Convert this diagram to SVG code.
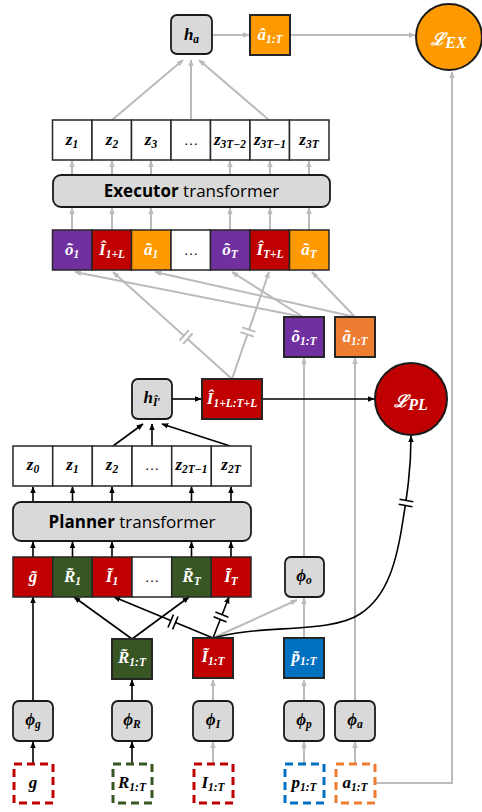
<svg xmlns="http://www.w3.org/2000/svg" width="482" height="812" viewBox="0 0 482 812">
<defs>
<marker id="ak" viewBox="0 0 10 10" refX="9" refY="5" markerWidth="7" markerHeight="7" orient="auto" markerUnits="userSpaceOnUse"><path d="M0,1 L10,5 L0,9 z" fill="#000"/></marker>
<marker id="ag" viewBox="0 0 10 10" refX="9" refY="5" markerWidth="7" markerHeight="7" orient="auto" markerUnits="userSpaceOnUse"><path d="M0,1 L10,5 L0,9 z" fill="#BBBBBB"/></marker>
</defs>
<style>
.g{stroke:#BBBBBB;stroke-width:2;fill:none}
.k{stroke:#000;stroke-width:1.6;fill:none}
.ga{marker-end:url(#ag)}
.ka{marker-end:url(#ak)}
.cell{stroke:#262626;stroke-width:1.5}
.box{stroke:#262626;stroke-width:2}
.gb{fill:#D9D9D9;stroke:#1a1a1a;stroke-width:1.8}
.dash{fill:#fff;stroke-width:3;stroke-dasharray:8 5}
.m{font-family:"Liberation Serif","DejaVu Serif",serif;font-weight:bold;font-style:italic;font-size:17px;text-anchor:middle}
.w{fill:#fff}
.s{font-size:11.5px}
.t{font-family:"Open Sans","Liberation Sans",sans-serif;font-size:17px;text-anchor:middle}
.dots{font-family:"Liberation Sans",sans-serif;font-size:15px;text-anchor:middle}
.sg{fill:#fff;stroke:none}
</style>

<g id="connectors">
  <path class="g ga" d="M212,35 H249"/>
  <path class="g ga" d="M290,35 H415"/>
  <path class="g ga" d="M376,783 H452 V72"/>
  <path class="g ga" d="M112,120 L183,60"/>
  <path class="g ga" d="M191,120 V60"/>
  <path class="g ga" d="M269,120 L199,60"/>
  <path class="g ga" d="M72,175 V161"/><path class="g ga" d="M112,175 V161"/><path class="g ga" d="M151,175 V161"/>
  <path class="g ga" d="M230,175 V161"/><path class="g ga" d="M270,175 V161"/><path class="g ga" d="M309,175 V161"/>
  <path class="g ga" d="M72,230 V208"/><path class="g ga" d="M112,230 V208"/><path class="g ga" d="M151,230 V208"/>
  <path class="g ga" d="M230,230 V208"/><path class="g ga" d="M270,230 V208"/><path class="g ga" d="M309,230 V208"/>
  <path class="g ga" d="M303,317 L75,272"/>
  <path class="g ga" d="M303,317 L232,272"/>
  <path class="g ga" d="M355,317 L155,272"/>
  <path class="g ga" d="M355,317 L312,272"/>
  <path class="g ga" d="M232,379 L113,272"/>
  <path class="g ga" d="M232,379 L269,272"/>
  <g transform="translate(186,337) rotate(42)"><rect class="sg" x="-2.5" y="-7" width="5" height="14"/><path class="g" d="M-2.5,-7 V7 M2.5,-7 V7" stroke-width="1.8"/></g>
  <g transform="translate(248,332) rotate(-71)"><rect class="sg" x="-2.5" y="-7" width="5" height="14"/><path class="g" d="M-2.5,-7 V7 M2.5,-7 V7" stroke-width="1.8"/></g>
  <path class="g ga" d="M304,557 V358"/>
  <path class="g ga" d="M355,701 V358"/>
  <path class="g ga" d="M304,763 V742"/>
  <path class="g ga" d="M304,701 V680"/>
  <path class="g ga" d="M304,638 V598"/>
  <path class="g ga" d="M213,763 V742"/>
  <path class="g ga" d="M213,701 V680"/>
  <path class="g ga" d="M355,763 V742"/>
  <path class="g ga" d="M213,638 L297,600"/>

  <path class="k ka" d="M172,399 H201"/>
  <path class="k ka" d="M262,399 H374"/>
  <path class="k ka" d="M113,446 L143,424"/>
  <path class="k ka" d="M152,446 V424"/>
  <path class="k ka" d="M230,446 L162,424"/>
  <path class="k ka" d="M33,502 V487"/><path class="k ka" d="M72.5,502 V487"/><path class="k ka" d="M112,502 V487"/>
  <path class="k ka" d="M191.5,502 V487"/><path class="k ka" d="M231,502 V487"/>
  <path class="k ka" d="M33,557 V542"/><path class="k ka" d="M72.5,557 V542"/><path class="k ka" d="M112,557 V542"/>
  <path class="k ka" d="M191.5,557 V542"/><path class="k ka" d="M231,557 V542"/>
  <path class="k ka" d="M33,701 V597"/>
  <path class="k ka" d="M33,763 V742"/>
  <path class="k ka" d="M132,763 V742"/>
  <path class="k ka" d="M132,701 V680"/>
  <path class="k ka" d="M132,639 L74,597"/>
  <path class="k ka" d="M132,639 L189,597"/>
  <path class="k ka" d="M213,638 L114,597"/>
  <path class="k ka" d="M213,638 L229,597"/>
  <g transform="translate(173,622) rotate(23)"><rect class="sg" x="-2.5" y="-7" width="5" height="14"/><path class="k" d="M-2.5,-7 V7 M2.5,-7 V7"/></g>
  <g transform="translate(221,617) rotate(-68)"><rect class="sg" x="-2.5" y="-7" width="5" height="14"/><path class="k" d="M-2.5,-7 V7 M2.5,-7 V7"/></g>
  <path class="k ka" d="M213,638 C260,624 330,634 360,614 C388,596 397,560 403,520 C407,495 411,470 411,436"/>
  <g transform="translate(406,503) rotate(-80)"><rect class="sg" x="-2.5" y="-7" width="5" height="14"/><path class="k" d="M-2.5,-7 V7 M2.5,-7 V7"/></g>
</g>

<g id="h_a"><rect class="gb" x="171" y="15" width="41" height="39" rx="6"/><text class="m" x="191.5" y="40">h<tspan class="s" dy="3">a</tspan></text></g>
<g id="a_hat"><rect class="box" x="250" y="15" width="40" height="40" fill="#FF9900"/><text class="m w" x="270" y="40">â<tspan class="s" dy="3">1:T</tspan></text></g>
<g id="L_EX"><circle cx="449" cy="37" r="33" fill="#FF9900" stroke="#1a1a1a" stroke-width="2"/><text class="m w" x="449" y="45" font-size="23" font-weight="normal">ℒ<tspan font-size="16" dy="3">EX</tspan></text></g>

<g id="exec_z">
  <rect class="cell" x="52.5" y="120" width="39.5" height="40" fill="#fff"/>
  <rect class="cell" x="92" y="120" width="39.5" height="40" fill="#fff"/>
  <rect class="cell" x="131.5" y="120" width="39.5" height="40" fill="#fff"/>
  <rect class="cell" x="171" y="120" width="39.5" height="40" fill="#fff"/>
  <rect class="cell" x="210.5" y="120" width="39.5" height="40" fill="#fff"/>
  <rect class="cell" x="250" y="120" width="39.5" height="40" fill="#fff"/>
  <rect class="cell" x="289.5" y="120" width="39.5" height="40" fill="#fff"/>
  <text class="m" x="72" y="145">z<tspan class="s" dy="3">1</tspan></text>
  <text class="m" x="112" y="145">z<tspan class="s" dy="3">2</tspan></text>
  <text class="m" x="151" y="145">z<tspan class="s" dy="3">3</tspan></text>
  <text class="dots" x="191" y="145">…</text>
  <text class="m" x="230" y="145">z<tspan class="s" dy="3">3T−2</tspan></text>
  <text class="m" x="270" y="145">z<tspan class="s" dy="3">3T−1</tspan></text>
  <text class="m" x="309" y="145">z<tspan class="s" dy="3">3T</tspan></text>
</g>
<g id="executor"><rect class="gb" x="53" y="175" width="277" height="32" rx="8"/><text class="t" x="191.5" y="197"><tspan font-weight="bold">Executor</tspan> transformer</text></g>
<g id="exec_in">
  <rect class="cell" x="52.5" y="230" width="39.5" height="40" fill="#7030A0"/>
  <rect class="cell" x="92" y="230" width="39.5" height="40" fill="#C00000"/>
  <rect class="cell" x="131.5" y="230" width="39.5" height="40" fill="#FF9900"/>
  <rect class="cell" x="171" y="230" width="39.5" height="40" fill="#fff"/>
  <rect class="cell" x="210.5" y="230" width="39.5" height="40" fill="#7030A0"/>
  <rect class="cell" x="250" y="230" width="39.5" height="40" fill="#C00000"/>
  <rect class="cell" x="289.5" y="230" width="39.5" height="40" fill="#FF9900"/>
  <text class="m w" x="72" y="255">õ<tspan class="s" dy="3">1</tspan></text>
  <text class="m w" x="112" y="255">Î<tspan class="s" dy="3">1+L</tspan></text>
  <text class="m w" x="151" y="255">ã<tspan class="s" dy="3">1</tspan></text>
  <text class="dots" x="191" y="255">…</text>
  <text class="m w" x="230" y="255">õ<tspan class="s" dy="3">T</tspan></text>
  <text class="m w" x="270" y="255">Î<tspan class="s" dy="3">T+L</tspan></text>
  <text class="m w" x="309" y="255">ã<tspan class="s" dy="3">T</tspan></text>
</g>
<g id="o_tilde"><rect class="box" x="284" y="317" width="40" height="40" fill="#7030A0"/><text class="m w" x="304" y="342">õ<tspan class="s" dy="3">1:T</tspan></text></g>
<g id="a_tilde"><rect class="box" x="335" y="317" width="40" height="40" fill="#ED7D31"/><text class="m w" x="355" y="342">ã<tspan class="s" dy="3">1:T</tspan></text></g>
<g id="h_I"><rect class="gb" x="132" y="379" width="40" height="40" rx="6"/><text class="m" x="152" y="403">h<tspan class="s" dy="3">Î′</tspan></text></g>
<g id="I_hat"><rect class="box" x="202" y="379" width="60" height="40" fill="#C00000"/><text class="m w" x="232" y="404">Î<tspan class="s" dy="3">1+L:T+L</tspan></text></g>
<g id="L_PL"><circle cx="411" cy="399" r="36" fill="#C00000" stroke="#1a1a1a" stroke-width="2"/><text class="m w" x="411" y="407" font-size="23" font-weight="normal">ℒ<tspan font-size="16" dy="3">PL</tspan></text></g>

<g id="plan_z">
  <rect class="cell" x="13" y="446" width="39.7" height="40" fill="#fff"/>
  <rect class="cell" x="52.7" y="446" width="39.7" height="40" fill="#fff"/>
  <rect class="cell" x="92.3" y="446" width="39.7" height="40" fill="#fff"/>
  <rect class="cell" x="132" y="446" width="39.7" height="40" fill="#fff"/>
  <rect class="cell" x="171.7" y="446" width="39.7" height="40" fill="#fff"/>
  <rect class="cell" x="211.3" y="446" width="39.7" height="40" fill="#fff"/>
  <text class="m" x="33" y="470">z<tspan class="s" dy="3">0</tspan></text>
  <text class="m" x="72.5" y="470">z<tspan class="s" dy="3">1</tspan></text>
  <text class="m" x="112" y="470">z<tspan class="s" dy="3">2</tspan></text>
  <text class="dots" x="152" y="470">…</text>
  <text class="m" x="191.5" y="470">z<tspan class="s" dy="3">2T−1</tspan></text>
  <text class="m" x="231" y="470">z<tspan class="s" dy="3">2T</tspan></text>
</g>
<g id="planner"><rect class="gb" x="13" y="502" width="238" height="39" rx="8"/><text class="t" x="132" y="528"><tspan font-weight="bold">Planner</tspan> transformer</text></g>
<g id="plan_in">
  <rect class="cell" x="13" y="557" width="39.7" height="40" fill="#C00000"/>
  <rect class="cell" x="52.7" y="557" width="39.7" height="40" fill="#375623"/>
  <rect class="cell" x="92.3" y="557" width="39.7" height="40" fill="#C00000"/>
  <rect class="cell" x="132" y="557" width="39.7" height="40" fill="#fff"/>
  <rect class="cell" x="171.7" y="557" width="39.7" height="40" fill="#375623"/>
  <rect class="cell" x="211.3" y="557" width="39.7" height="40" fill="#C00000"/>
  <text class="m w" x="33" y="582">g̃</text>
  <text class="m w" x="72.5" y="582">R̃<tspan class="s" dy="3">1</tspan></text>
  <text class="m w" x="112" y="582">Ĩ<tspan class="s" dy="3">1</tspan></text>
  <text class="dots" x="152" y="582">…</text>
  <text class="m w" x="191.5" y="582">R̃<tspan class="s" dy="3">T</tspan></text>
  <text class="m w" x="231" y="582">Ĩ<tspan class="s" dy="3">T</tspan></text>
</g>
<g id="phi_o"><rect class="gb" x="285" y="557" width="39" height="40" rx="6"/><text class="m" x="304" y="581">ϕ<tspan class="s" dy="3">o</tspan></text></g>

<g id="R_tilde"><rect class="box" x="112" y="639" width="40" height="40" fill="#375623"/><text class="m w" x="132" y="663">R̃<tspan class="s" dy="3">1:T</tspan></text></g>
<g id="I_tilde"><rect class="box" x="193" y="638" width="40" height="40" fill="#C00000"/><text class="m w" x="213" y="662">Ĩ<tspan class="s" dy="3">1:T</tspan></text></g>
<g id="p_tilde"><rect class="box" x="284" y="638" width="40" height="40" fill="#0070C0"/><text class="m w" x="304" y="662">p̃<tspan class="s" dy="3">1:T</tspan></text></g>

<g id="phi_g"><rect class="gb" x="13" y="701" width="40" height="40" rx="6"/><text class="m" x="33" y="725">ϕ<tspan class="s" dy="3">g</tspan></text></g>
<g id="phi_R"><rect class="gb" x="112" y="701" width="40" height="40" rx="6"/><text class="m" x="132" y="725">ϕ<tspan class="s" dy="3">R</tspan></text></g>
<g id="phi_I"><rect class="gb" x="193" y="701" width="40" height="40" rx="6"/><text class="m" x="213" y="725">ϕ<tspan class="s" dy="3">I</tspan></text></g>
<g id="phi_p"><rect class="gb" x="284" y="701" width="40" height="40" rx="6"/><text class="m" x="304" y="725">ϕ<tspan class="s" dy="3">p</tspan></text></g>
<g id="phi_a"><rect class="gb" x="335" y="701" width="40" height="40" rx="6"/><text class="m" x="355" y="725">ϕ<tspan class="s" dy="3">a</tspan></text></g>

<g id="g_in"><rect class="dash" x="14" y="764" width="39" height="39" stroke="#C00000"/><text class="m" x="33" y="788">g</text></g>
<g id="R_in"><rect class="dash" x="113" y="764" width="39" height="39" stroke="#375623"/><text class="m" x="132" y="788">R<tspan class="s" dy="3">1:T</tspan></text></g>
<g id="I_in"><rect class="dash" x="194" y="764" width="39" height="39" stroke="#C00000"/><text class="m" x="213" y="788">I<tspan class="s" dy="3">1:T</tspan></text></g>
<g id="p_in"><rect class="dash" x="285" y="764" width="39" height="39" stroke="#0070C0"/><text class="m" x="304" y="788">p<tspan class="s" dy="3">1:T</tspan></text></g>
<g id="a_in"><rect class="dash" x="336" y="764" width="39" height="39" stroke="#ED7D31"/><text class="m" x="355" y="788">a<tspan class="s" dy="3">1:T</tspan></text></g>
</svg>
